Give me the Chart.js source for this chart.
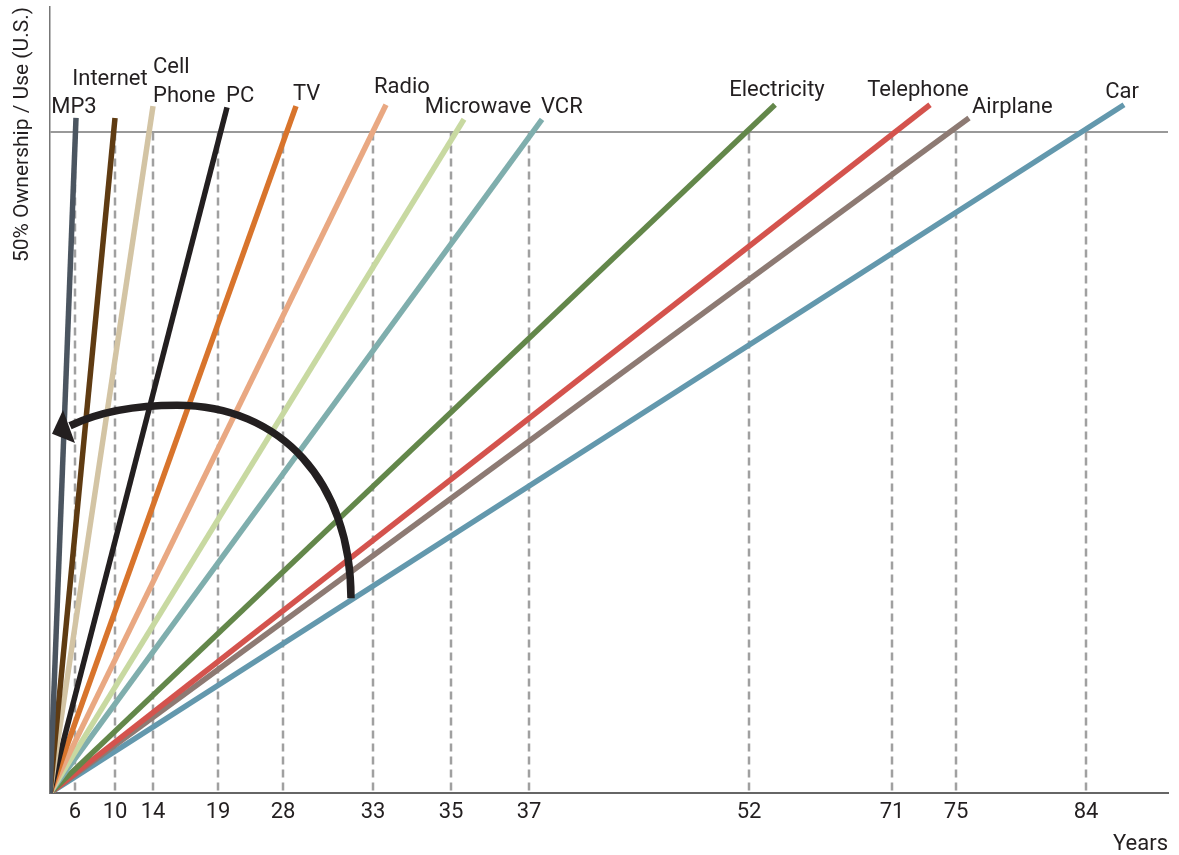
<!DOCTYPE html>
<html>
<head>
<meta charset="utf-8">
<script src="https://cdn.jsdelivr.net/npm/chart.js@4/dist/chart.umd.min.js"></script>
<style>
  html, body { margin: 0; padding: 0; background: #fff; }
</style>
</head>
<body>
<canvas id="chart" width="1179" height="855"></canvas>
<script>
// technologies, in order of how many years they took to reach 50% of US households
const techs = ["MP3", "Internet", "Cell Phone", "PC", "TV", "Radio", "Microwave", "VCR", "Electricity", "Telephone", "Airplane", "Car"];
const years = [6, 10, 14, 19, 28, 33, 35, 37, 52, 71, 75, 84];
// the time axis is schematic, not to scale: where each year tick sits on it
const tickPos = [25, 65, 103, 168, 233, 323, 401, 479, 699, 842, 906, 1036];
// where each adoption line stops (axis position, % ownership)
const endPos = [26, 65, 103, 177, 246, 336, 414, 492, 725, 880, 919, 1074];
const lineTop = [51.1, 51.1, 52.0, 51.9, 52.0, 52.1, 51.0, 51.0, 52.1, 52.1, 51.1, 52.1];

const colors = ["#4b5560", "#5f3b12", "#d3c4a4", "#231f20", "#d8742c", "#e9a882",
                "#c8d9a1", "#7faead", "#63874a", "#d4534d", "#8d7a73", "#6398ad"];

// label placement next to the top end of each line
const labelPlace = [
  { align: "center", dx: -2, dy: -5 },
  { align: "center", dx: -5, dy: -33 },
  { align: "left", dx: 0, dy: -4, lines: ["Cell", "Phone"] },
  { align: "left", dx: -1, dy: -5 },
  { align: "left", dx: -3, dy: -6 },
  { align: "left", dx: -12, dy: -12 },
  { align: "center", dx: 14, dy: -6 },
  { align: "left", dx: -1, dy: -6 },
  { align: "center", dx: 2, dy: -9 },
  { align: "center", dx: -12, dy: -9 },
  { align: "left", dx: 3, dy: -5 },
  { align: "center", dx: -2, dy: -7 }
];

// the curved "acceleration" arrow, in axis units
const arrowCurve = [
  [301, 14.75], [301, 23.5], [231, 29.35], [127, 29.35],
  [80, 29.35], [45, 28.7], [20, 27.8]
];
const arrowHead = [[2, 27.2], [13, 29.0], [25, 26.5]];

const FONT = "Roboto, 'Liberation Sans', Arial, sans-serif";
const textColor = "#231f20";

const datasets = [];

// dashed drop lines from the 50% line to each year
tickPos.forEach((p, i) => {
  datasets.push({
    label: "drop " + years[i],
    data: [{ x: p, y: 50 }, { x: p, y: 0 }],
    borderColor: "#a0a0a0",
    borderWidth: 2.5,
    borderDash: [8, 5],
    pointRadius: 0,
    order: 2
  });
});

techs.forEach((t, i) => {
  datasets.push({
    label: t,
    data: [{ x: 0, y: 0 }, { x: endPos[i], y: lineTop[i] }],
    borderColor: colors[i],
    borderWidth: 5.5,
    pointRadius: 0,
    order: 1
  });
});

const lineLabels = {
  id: "lineLabels",
  afterDatasetsDraw(chart) {
    const { ctx, scales: { x, y } } = chart;
    ctx.save();
    ctx.font = "22px " + FONT;
    ctx.fillStyle = textColor;
    ctx.textBaseline = "alphabetic";
    techs.forEach((t, i) => {
      const pl = labelPlace[i];
      const px = x.getPixelForValue(endPos[i]) + pl.dx;
      const py = y.getPixelForValue(lineTop[i]) + pl.dy;
      const lines = pl.lines || [t];
      ctx.textAlign = pl.align;
      lines.forEach((ln, k) => {
        ctx.fillText(ln, px, py - (lines.length - 1 - k) * 29);
      });
    });
    ctx.restore();
  }
};

const arrow = {
  id: "arrow",
  afterDatasetsDraw(chart) {
    const { ctx, scales: { x, y } } = chart;
    const pt = p => [x.getPixelForValue(p[0]), y.getPixelForValue(p[1])];
    const c = arrowCurve.map(pt);
    ctx.save();
    ctx.strokeStyle = "#231f20";
    ctx.lineWidth = 7.5;
    ctx.beginPath();
    ctx.moveTo(c[0][0], c[0][1]);
    ctx.bezierCurveTo(c[1][0], c[1][1], c[2][0], c[2][1], c[3][0], c[3][1]);
    ctx.bezierCurveTo(c[4][0], c[4][1], c[5][0], c[5][1], c[6][0], c[6][1]);
    ctx.stroke();
    const h = arrowHead.map(pt);
    ctx.fillStyle = "#231f20";
    ctx.beginPath();
    ctx.moveTo(h[0][0], h[0][1]);
    ctx.lineTo(h[1][0], h[1][1]);
    ctx.lineTo(h[2][0], h[2][1]);
    ctx.closePath();
    ctx.fill();
    ctx.restore();
  }
};

new Chart(document.getElementById("chart"), {
  type: "line",
  data: { datasets },
  options: {
    responsive: false,
    animation: false,
    layout: { padding: { top: 7, right: 11, left: 0, bottom: 0 } },
    plugins: { legend: { display: false }, tooltip: { enabled: false } },
    elements: { line: { tension: 0, borderCapStyle: "butt" } },
    scales: {
      x: {
        type: "linear",
        min: 0,
        max: 1118,
        afterBuildTicks: s => { s.ticks = tickPos.map(v => ({ value: v })); },
        afterFit: s => { s.height = 62; },
        grid: { display: false, drawTicks: false },
        border: { display: true, color: "#666", width: 2 },
        ticks: {
          autoSkip: false,
          maxRotation: 0,
          padding: 6,
          color: textColor,
          font: { family: FONT, size: 22 },
          callback: (v, i) => years[i]
        },
        title: {
          display: true,
          text: "Years",
          align: "end",
          color: textColor,
          padding: 0,
          font: { family: FONT, size: 22, lineHeight: 1 }
        }
      },
      y: {
        min: 0,
        max: 59.5,
        afterBuildTicks: s => { s.ticks = [{ value: 50 }]; },
        afterFit: s => { s.width = 50; },
        grid: { color: "#999", lineWidth: 2, drawTicks: false },
        border: { display: true, color: "#777", width: 1.5 },
        ticks: { display: false },
        title: {
          display: true,
          text: "50% Ownership / Use (U.S.)",
          align: "end",
          color: textColor,
          padding: { top: 10, bottom: 0 },
          font: { family: FONT, size: 21 }
        }
      }
    }
  },
  plugins: [lineLabels, arrow]
});
</script>
</body>
</html>
